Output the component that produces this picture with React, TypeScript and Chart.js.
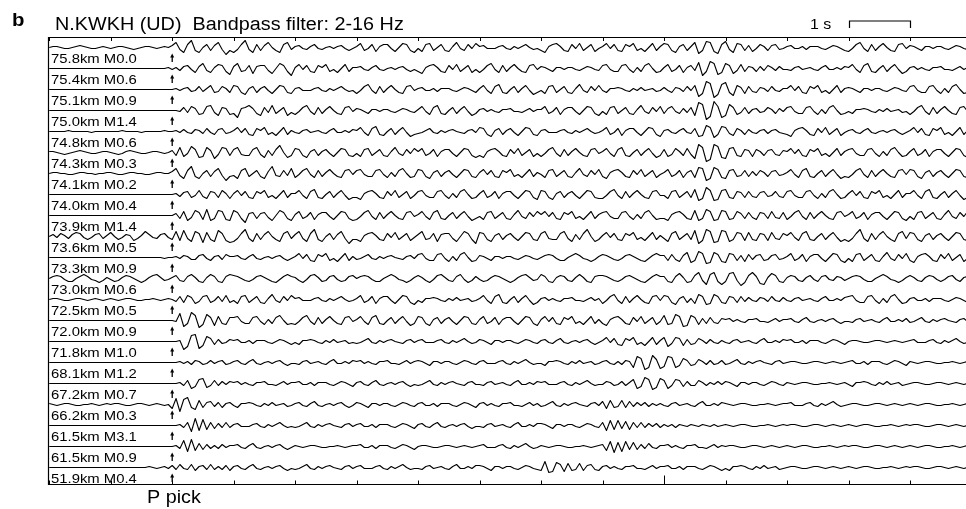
import { useEffect, useRef } from "react";
import { Chart, registerables } from "chart.js";

Chart.register(...registerables);

// Time axis, seconds relative to the P pick
const SAMPLE_START = -2.0;
const SAMPLE_STEP = 0.0625;
const TIME_MIN = -2.02;
const TIME_MAX = 12.91;
const SECOND_TICKS = [-2, -1, 0, 1, 2, 3, 4, 5, 6, 7, 8, 9, 10, 11, 12];
const LONG_TICK = 8;
const SCALE_BAR = [11, 12];

const PANEL = "b";
const TITLE = "N.KWKH (UD)  Bandpass filter: 2-16 Hz";
const SCALE_LABEL = "1 s";
const PICK_LABEL = "P pick";

const TRACE_LABELS = [
  "75.8km M0.0", "75.4km M0.6", "75.1km M0.9", "75.0km M1.4", "74.8km M0.6",
  "74.3km M0.3", "74.1km M0.2", "74.0km M0.4", "73.9km M1.4", "73.6km M0.5",
  "73.3km M0.9", "73.0km M0.6", "72.5km M0.5", "72.0km M0.9", "71.8km M1.0",
  "68.1km M1.2", "67.2km M0.7", "66.2km M0.3", "61.5km M3.1", "61.5km M0.9",
  "51.9km M0.4",
];

// Filtered UD amplitudes (positive = up), 16 samples per second from -2 s.
// One line per second of record.
const tr00 = [
  0,1,1,0,-1,-1,0,1,2,1,0,-1,-1,0,1,0,
  -1,0,1,1,0,-1,-2,-1,0,1,1,0,-1,0,1,0,
  2,5,-2,-5,3,7,-3,-5,0,3,-3,2,5,-2,-7,-3,
  -5,-2,3,7,-2,-5,3,-3,2,5,0,-3,-5,3,5,-2,
  1,2,-1,-2,1,3,-1,-2,0,1,-1,1,2,-1,-3,-1,
  1,4,-3,-1,3,-4,1,3,3,-1,-4,0,4,3,-3,-5,
  -1,-4,3,4,-3,0,3,-3,-4,1,5,-1,-3,3,-1,4,
  1,2,-1,-1,-1,1,2,-1,-2,1,-1,1,3,0,-2,-1,
  -3,-5,1,3,4,1,-3,-4,3,-1,4,-3,0,3,-4,-1,
  1,4,-1,3,-3,-4,3,1,4,-3,-1,-4,0,4,-3,1,
  4,3,-3,-5,1,3,-3,1,5,-6,-3,6,5,-4,-6,3,
  6,-2,-5,4,3,-3,2,-4,-1,3,1,-3,2,3,-2,-1,
  1,2,-1,-1,1,-2,1,1,1,-1,-2,0,2,1,-1,-3,
  -4,-1,3,5,-1,-4,3,-3,1,4,0,-3,-4,3,4,-1,
  2,1,-1,-3,1,1,-1,1,1,-1,-2,0,2,1,-1,-2,
];
const tr01 = [
  0,0,0,0,0,0,0,0,0,0,0,0,0,0,0,0,
  0,0,0,0,0,0,0,0,0,0,0,0,0,0,0,1,
  -1,1,-2,2,3,-1,-4,2,5,-2,-4,1,4,3,-3,-6,
  2,5,-3,-2,3,-5,2,3,3,-2,-5,0,5,3,-3,-7,
  1,4,-1,3,-3,-4,3,1,4,-3,-1,-4,0,4,-3,1,
  1,2,-1,-2,1,3,-1,-2,0,1,-1,1,2,-1,-3,-1,
  -3,-5,1,3,4,1,-3,-4,3,-1,4,-3,0,3,-4,-1,
  -4,-1,3,5,-1,-4,3,-3,1,4,0,-3,-4,3,4,-1,
  2,1,-1,-3,1,1,-1,1,1,-1,-2,0,2,1,-1,-2,
  3,4,-1,-3,-3,3,4,-1,-4,1,-3,3,5,0,-4,-3,
  1,4,-3,-1,3,-4,1,3,-2,6,-7,-3,7,5,-6,-4,
  5,3,-5,-2,4,-3,2,1,-3,2,-2,3,1,-2,2,-1,
  -1,-2,1,2,-1,0,1,-1,-2,1,3,-1,-1,1,-1,2,
  1,4,-1,-4,3,5,-3,-4,0,3,-3,1,4,-1,-5,-3,
  1,2,-1,1,-1,-2,1,1,2,-1,-1,-2,0,2,-1,1,
];
const tr02 = [
  0,0,0,0,0,0,0,0,0,0,0,0,0,0,0,0,
  0,0,0,0,0,0,0,0,0,0,0,0,0,0,0,0,
  0,1,-1,1,2,-2,-1,3,-2,1,4,-3,-2,3,1,-3,
  4,3,-3,-5,1,3,-3,1,3,-1,-4,0,4,3,-3,-4,
  1,2,-1,-1,-1,1,2,-1,-2,1,-1,1,3,0,-2,-1,
  -4,-1,3,5,-1,-4,3,-3,1,4,0,-3,-4,3,4,-1,
  1,2,-1,-1,1,-2,1,1,1,-1,-2,0,2,1,-1,-3,
  1,4,-1,-4,3,5,-3,-4,0,3,-3,1,4,-1,-5,-3,
  -1,-4,3,4,-3,0,3,-3,-4,1,5,-1,-3,3,-1,4,
  -1,-3,1,1,2,1,-1,-2,1,-1,2,-1,0,1,-2,-1,
  2,-1,-3,2,1,-2,3,-1,4,-7,-4,8,6,-8,-5,5,
  7,-3,-6,4,2,-4,3,-2,-3,2,1,-2,3,-1,-2,1,
  1,4,-1,3,-3,-4,3,1,4,-3,-1,-4,0,4,-3,1,
  2,1,-1,-3,1,1,-1,1,1,-1,-2,0,2,1,-1,-2,
  3,4,-1,-3,-3,3,4,-1,-4,1,-3,3,5,0,-4,-3,
];
const tr03 = [
  0,0,0,0,0,0,0,0,0,0,0,0,0,0,0,0,
  0,0,0,0,0,0,0,0,0,0,0,0,0,0,0,0,
  0,0,-1,3,-2,4,2,-4,-3,4,5,-2,-5,3,2,-4,
  -3,-7,2,3,5,2,-3,-5,3,-2,5,-3,0,3,-5,-2,
  -4,-1,3,5,-1,-4,3,-3,1,4,0,-3,-4,3,4,-1,
  2,1,-1,-3,1,1,-1,1,1,-1,-2,0,2,1,-1,-2,
  1,4,-1,-4,3,5,-3,-4,0,3,-3,1,4,-1,-5,-3,
  1,2,-1,1,-1,-2,1,1,2,-1,-1,-2,0,2,-1,1,
  1,4,-3,-1,3,-4,1,3,3,-1,-4,0,4,3,-3,-5,
  -1,-4,3,4,-3,0,3,-3,-4,1,5,-1,-3,3,-1,4,
  -3,2,4,-1,-3,2,-2,3,-5,8,6,-9,-6,9,4,-7,
  -5,6,3,-4,-2,3,-3,1,2,-2,-1,3,1,-3,2,-1,
  3,4,-1,-3,-3,3,4,-1,-4,1,-3,3,5,0,-4,-3,
  -1,-3,1,1,2,1,-1,-2,1,-1,2,-1,0,1,-2,-1,
  -4,-1,3,5,-1,-4,3,-3,1,4,0,-3,-4,3,4,-1,
];
const tr04 = [
  0,0,0,0,0,1,0,0,0,0,0,-1,0,0,0,0,
  0,0,0,1,0,0,0,0,-1,0,0,0,0,0,1,0,
  0,1,-1,2,-1,-2,2,1,-2,3,-1,-3,2,3,-2,-1,
  1,4,-1,3,-3,-4,3,1,4,-3,-1,-4,0,4,-3,1,
  -1,-2,1,2,-1,0,1,-1,-2,1,3,-1,-1,1,-1,2,
  1,4,-1,-4,3,5,-3,-4,0,3,-3,1,4,-1,-5,-3,
  -2,-1,1,3,-1,-2,1,-1,1,2,0,-1,-2,1,2,-1,
  4,3,-3,-5,1,3,-3,1,3,-1,-4,0,4,3,-3,-4,
  1,2,-1,-1,-1,1,2,-1,-2,1,-1,1,3,0,-2,-1,
  1,4,-3,-1,3,-4,1,3,3,-1,-4,0,4,3,-3,-5,
  1,2,-1,-2,1,3,-1,-2,3,-5,-4,6,4,-6,-3,5,
  4,-2,-4,3,1,-3,2,-1,-2,1,2,-2,1,2,-1,-2,
  -3,-5,1,3,4,1,-3,-4,3,-1,4,-3,0,3,-4,-1,
  1,2,-1,-2,1,3,-1,-2,0,1,-1,1,2,-1,-3,-1,
  1,4,-1,3,-3,-4,3,1,4,-3,-1,-4,0,4,-3,1,
];
const tr05 = [
  1,1,0,-1,-2,-1,0,1,2,1,0,-1,-1,0,1,1,
  0,-1,-2,-1,1,2,1,0,-1,-1,0,1,1,0,-1,0,
  2,-3,5,-4,-1,6,3,-5,-4,5,2,-6,-2,5,4,-3,
  3,5,-2,-3,-3,3,5,-2,-5,2,-3,3,7,0,-5,-3,
  4,3,-3,-5,1,3,-3,1,3,-1,-4,0,4,3,-3,-4,
  -1,-4,3,4,-3,0,3,-3,-4,1,5,-1,-3,3,-1,4,
  1,4,-3,-1,3,-4,1,3,3,-1,-4,0,4,3,-3,-5,
  -3,-5,1,3,4,1,-3,-4,3,-1,4,-3,0,3,-4,-1,
  -4,-1,3,5,-1,-4,3,-3,1,4,0,-3,-4,3,4,-1,
  1,4,-1,-4,3,5,-3,-4,0,3,-3,1,4,-1,-5,-3,
  3,-4,-2,4,1,-3,4,-2,-6,8,5,-9,-7,8,6,-5,
  -6,4,5,-3,-4,3,2,-4,3,1,-3,2,3,-2,-3,2,
  1,4,-1,3,-3,-4,3,1,4,-3,-1,-4,0,4,-3,1,
  3,4,-1,-3,-3,3,4,-1,-4,1,-3,3,5,0,-4,-3,
  1,4,-3,-1,3,-4,1,3,3,-1,-4,0,4,3,-3,-5,
];
const tr06 = [
  0,1,1,0,0,-1,-1,0,1,1,0,0,-1,0,0,1,
  1,0,-1,-1,0,1,1,0,0,-1,-1,0,1,1,0,0,
  2,5,-2,-5,3,7,-3,-5,0,3,-3,2,5,-2,-7,-3,
  -2,-5,3,5,-3,0,3,-3,-5,2,7,-2,-3,3,-2,5,
  -4,-1,3,5,-1,-4,3,-3,1,4,0,-3,-4,3,4,-1,
  3,4,-1,-3,-3,3,4,-1,-4,1,-3,3,5,0,-4,-3,
  4,3,-3,-5,1,3,-3,1,3,-1,-4,0,4,3,-3,-4,
  1,4,-1,3,-3,-4,3,1,4,-3,-1,-4,0,4,-3,1,
  -1,-4,3,4,-3,0,3,-3,-4,1,5,-1,-3,3,-1,4,
  -3,-5,1,3,4,1,-3,-4,3,-1,4,-3,0,3,-4,-1,
  1,4,-3,-1,3,-4,1,3,-4,6,5,-7,-5,6,4,-4,
  -5,3,4,-3,-2,3,-3,2,-2,3,1,-3,2,3,-2,-1,
  1,4,-1,-4,3,5,-3,-4,0,3,-3,1,4,-1,-5,-3,
  -4,-1,3,5,-1,-4,3,-3,1,4,0,-3,-4,3,4,-1,
  4,3,-3,-5,1,3,-3,1,3,-1,-4,0,4,3,-3,-4,
];
const tr07 = [
  0,0,0,0,0,0,0,0,0,0,0,0,0,0,0,0,
  0,0,0,0,0,0,0,0,0,0,0,0,0,0,0,0,
  0,1,-2,2,3,-3,-1,4,-2,-4,3,2,-3,4,1,-4,
  1,4,-1,3,-3,-4,3,1,4,-3,-1,-4,0,4,-3,1,
  1,4,-1,-4,3,5,-3,-4,0,3,-3,1,4,-1,-5,-3,
  -3,-5,1,3,4,1,-3,-4,3,-1,4,-3,0,3,-4,-1,
  3,4,-1,-3,-3,3,4,-1,-4,1,-3,3,5,0,-4,-3,
  1,4,-3,-1,3,-4,1,3,3,-1,-4,0,4,3,-3,-5,
  4,3,-3,-5,1,3,-3,1,3,-1,-4,0,4,3,-3,-4,
  -4,-1,3,5,-1,-4,3,-3,1,4,0,-3,-4,3,4,-1,
  -1,-4,3,4,-3,0,3,-3,5,-6,-4,7,4,-6,-5,4,
  5,-3,-4,3,2,-3,3,-2,-3,2,3,-2,-1,3,-2,-3,
  3,4,-1,-3,-3,3,4,-1,-4,1,-3,3,5,0,-4,-3,
  1,4,-1,3,-3,-4,3,1,4,-3,-1,-4,0,4,-3,1,
  1,4,-1,-4,3,5,-3,-4,0,3,-3,1,4,-1,-5,-3,
];
const tr08 = [
  0,0,0,0,0,0,0,0,0,0,0,0,0,0,0,0,
  0,0,0,0,0,0,0,0,0,0,0,0,0,0,0,0,
  0,2,-3,4,-5,-2,5,3,-4,6,-5,-3,5,4,-4,-5,
  5,3,-3,-7,2,3,-3,2,3,-2,-5,0,5,3,-3,-5,
  1,4,-3,-1,3,-4,1,3,3,-1,-4,0,4,3,-3,-5,
  -4,-1,3,5,-1,-4,3,-3,1,4,0,-3,-4,3,4,-1,
  1,4,-1,-4,3,5,-3,-4,0,3,-3,1,4,-1,-5,-3,
  -1,-4,3,4,-3,0,3,-3,-4,1,5,-1,-3,3,-1,4,
  1,4,-1,3,-3,-4,3,1,4,-3,-1,-4,0,4,-3,1,
  3,4,-1,-3,-3,3,4,-1,-4,1,-3,3,5,0,-4,-3,
  -3,-5,1,3,4,1,-3,-4,5,-5,-3,6,4,-5,-4,5,
  4,-4,-3,4,2,-3,3,-2,-4,3,2,-3,4,-2,-3,3,
  -4,-1,3,5,-1,-4,3,-3,1,4,0,-3,-4,3,4,-1,
  1,4,-3,-1,3,-4,1,3,3,-1,-4,0,4,3,-3,-5,
  -1,-4,3,4,-3,0,3,-3,-4,1,5,-1,-3,3,-1,4,
];
const tr09 = [
  0,2,-1,3,1,-2,2,4,3,-1,-3,-1,2,3,-2,1,
  4,0,-3,-1,2,1,-4,-2,1,5,2,-1,-2,2,3,-1,
  -3,5,-4,6,-2,-5,5,3,-6,4,-3,-5,6,3,-4,-6,
  -5,-2,3,7,-2,-5,3,-3,2,5,0,-3,-5,3,5,-2,
  2,5,-2,-5,3,7,-3,-5,0,3,-3,2,5,-2,-7,-3,
  -3,-5,1,3,4,1,-3,-4,3,-1,4,-3,0,3,-4,-1,
  2,5,-3,-2,3,-5,2,3,3,-2,-5,0,5,3,-3,-7,
  4,3,-3,-5,1,3,-3,1,3,-1,-4,0,4,3,-3,-4,
  3,5,-2,-3,-3,3,5,-2,-5,2,-3,3,7,0,-5,-3,
  1,4,-1,3,-3,-4,3,1,4,-3,-1,-4,0,4,-3,1,
  -2,-5,3,5,-3,0,3,-3,6,-7,-4,7,5,-6,-5,6,
  5,-5,-3,4,3,-4,4,-3,-4,3,2,-4,4,-2,-3,3,
  1,4,-1,-4,3,5,-3,-4,0,3,-3,1,4,-1,-5,-3,
  -5,-2,3,7,-2,-5,3,-3,2,5,0,-3,-5,3,5,-2,
  4,3,-3,-5,1,3,-3,1,3,-1,-4,0,4,3,-3,-4,
];
const tr10 = [
  0,0,0,0,0,0,0,0,0,0,0,0,0,0,0,0,
  0,0,0,0,0,0,0,0,0,0,0,0,0,0,-1,0,
  0,1,-1,2,1,-2,-2,2,3,-1,-3,1,2,-2,3,1,
  1,2,-1,-2,1,3,-1,-2,0,1,-1,1,2,-1,-3,-1,
  1,4,-1,3,-3,-4,3,1,4,-3,-1,-4,0,4,-3,1,
  -2,-1,1,3,-1,-2,1,-1,1,2,0,-1,-2,1,2,-1,
  3,4,-1,-3,-3,3,4,-1,-4,1,-3,3,5,0,-4,-3,
  2,1,-1,-3,1,1,-1,1,1,-1,-2,0,2,1,-1,-2,
  0,2,3,2,-1,-3,-3,0,2,4,2,-1,-2,-4,-2,1,
  3,2,0,-2,-3,-1,2,3,1,-1,-3,-4,-1,2,4,2,
  2,-3,3,-2,-4,2,5,-5,-3,6,4,-6,-5,5,3,-4,
  -5,4,3,-3,2,-4,3,-2,2,3,-3,-2,2,3,-2,-1,
  1,4,-3,-1,3,-4,1,3,3,-1,-4,0,4,3,-3,-5,
  -1,-4,3,4,-3,0,3,-3,-4,1,5,-1,-3,3,-1,4,
  -3,-5,1,3,4,1,-3,-4,3,-1,4,-3,0,3,-4,-1,
];
const tr11 = [
  0,2,3,2,-1,-3,-3,0,2,4,2,-1,-2,-4,-2,1,
  -1,-3,-2,1,3,2,0,-2,-4,-2,1,3,4,1,-2,-1,
  1,3,-2,-3,2,4,1,-3,-4,1,4,2,-3,-4,2,4,
  3,2,0,-2,-3,-1,2,3,1,-1,-3,-4,-1,2,4,2,
  1,-2,-4,-1,3,4,1,-3,-2,2,3,-1,-3,-2,2,3,
  0,2,3,2,-1,-3,-3,0,2,4,2,-1,-2,-4,-2,1,
  3,1,-2,-4,-1,3,4,1,-2,-3,2,4,-1,-4,-2,2,
  -1,-3,-2,1,3,2,0,-2,-4,-2,1,3,4,1,-2,-1,
  4,2,-3,-4,1,3,2,-2,-3,1,4,1,-3,-4,2,3,
  3,2,0,-2,-3,-1,2,3,1,-1,-3,-4,-1,2,4,2,
  2,-3,-4,2,5,1,-4,-3,3,6,-2,-6,4,6,-3,-6,
  -3,5,6,-2,-7,-4,3,6,2,-5,-6,1,5,3,-3,-4,
  1,3,2,-2,-3,1,3,-1,-3,2,3,-1,-2,2,1,-2,
  0,2,3,2,-1,-3,-3,0,2,4,2,-1,-2,-4,-2,1,
  3,1,-2,-3,1,3,2,-1,-3,-1,2,3,-1,-3,1,2,
];
const tr12 = [
  0,1,1,0,-1,-1,0,1,1,0,-1,0,1,0,-1,0,
  1,0,-1,0,1,1,0,-1,-1,0,0,1,0,-1,0,1,
  0,-2,3,-3,4,2,-4,-2,3,4,-3,-1,3,-2,4,-3,
  -1,-4,3,4,-3,0,3,-3,-4,1,5,-1,-3,3,-1,4,
  1,2,-1,-1,-1,1,2,-1,-2,1,-1,1,3,0,-2,-1,
  1,4,-3,-1,3,-4,1,3,3,-1,-4,0,4,3,-3,-5,
  -1,-3,1,1,2,1,-1,-2,1,-1,2,-1,0,1,-2,-1,
  1,4,-1,-4,3,5,-3,-4,0,3,-3,1,4,-1,-5,-3,
  1,2,-1,1,-1,-2,1,1,2,-1,-1,-2,0,2,-1,1,
  -4,-1,3,5,-1,-4,3,-3,1,4,0,-3,-4,3,4,-1,
  4,3,-3,-5,1,3,-3,1,-4,5,3,-5,-4,5,3,-3,
  -4,3,2,-3,3,-2,2,-1,-2,2,1,-2,3,-1,-2,2,
  -1,-2,1,2,-1,0,1,-1,-2,1,3,-1,-1,1,-1,2,
  3,4,-1,-3,-3,3,4,-1,-4,1,-3,3,5,0,-4,-3,
  1,2,-1,-1,1,-2,1,1,1,-1,-2,0,2,1,-1,-3,
];
const tr13 = [
  0,0,0,0,0,0,0,0,0,0,0,0,0,0,0,0,
  0,0,0,0,0,0,0,0,0,0,0,0,0,0,0,0,
  0,-1,7,-6,-3,8,5,-7,-4,6,3,-5,4,-3,-4,3,
  3,4,-1,-3,-3,3,4,-1,-4,1,-3,3,5,0,-4,-3,
  -4,-1,3,5,-1,-4,3,-3,1,4,0,-3,-4,3,4,-1,
  1,4,-1,-4,3,5,-3,-4,0,3,-3,1,4,-1,-5,-3,
  4,3,-3,-5,1,3,-3,1,3,-1,-4,0,4,3,-3,-4,
  1,4,-3,-1,3,-4,1,3,3,-1,-4,0,4,3,-3,-5,
  1,4,-1,3,-3,-4,3,1,4,-3,-1,-4,0,4,-3,1,
  -3,-5,1,3,4,1,-3,-4,3,-1,4,-3,0,3,-4,-1,
  5,-4,-3,6,4,-6,-5,5,3,-4,2,-3,3,-2,-3,2,
  1,2,-1,1,-1,-2,1,1,2,-1,-1,-2,0,2,-1,1,
  1,2,-1,-2,1,3,-1,-2,0,1,-1,1,2,-1,-3,-1,
  -1,-2,1,2,-1,0,1,-1,-2,1,3,-1,-1,1,-1,2,
  -2,-1,1,3,-1,-2,1,-1,1,2,0,-1,-2,1,2,-1,
];
const tr14 = [
  0,0,0,0,0,0,0,0,0,0,0,0,0,0,0,0,
  0,0,0,0,0,0,0,0,0,0,0,0,0,0,0,0,
  0,0,1,-8,-5,6,7,-7,-4,5,3,-3,2,-2,-1,2,
  1,2,-1,-1,1,-2,1,1,1,-1,-2,0,2,1,-1,-3,
  -1,-3,1,1,2,1,-1,-2,1,-1,2,-1,0,1,-2,-1,
  -2,-1,1,3,-1,-2,1,-1,1,2,0,-1,-2,1,2,-1,
  1,2,-1,-1,-1,1,2,-1,-2,1,-1,1,3,0,-2,-1,
  2,1,-1,-3,1,1,-1,1,1,-1,-2,0,2,1,-1,-2,
  1,2,-1,-2,1,3,-1,-2,0,1,-1,1,2,-1,-3,-1,
  1,4,-1,3,-3,-4,3,1,4,-3,-1,-4,0,4,-3,1,
  4,-5,-2,4,3,-4,2,-3,-2,3,1,-2,2,-1,-2,1,
  -1,-2,1,2,-1,0,1,-1,-2,1,3,-1,-1,1,-1,2,
  1,2,-1,-1,1,-2,1,1,1,-1,-2,0,2,1,-1,-3,
  0,1,1,0,-1,-1,0,1,1,0,-1,0,1,0,-1,0,
  1,2,-1,-1,-1,1,2,-1,-2,1,-1,1,3,0,-2,-1,
];
const tr15 = [
  0,0,0,0,0,0,0,0,0,0,0,0,0,0,0,0,
  0,0,0,0,0,0,0,0,0,0,0,0,0,0,0,0,
  0,0,1,-1,1,-2,2,1,-2,-1,2,-1,1,2,-2,-1,
  1,2,-1,-2,1,3,-1,-2,0,1,-1,1,2,-1,-3,-1,
  -1,-2,1,2,-1,0,1,-1,-2,1,3,-1,-1,1,-1,2,
  1,2,-1,1,-1,-2,1,1,2,-1,-1,-2,0,2,-1,1,
  2,1,-1,-3,1,1,-1,1,1,-1,-2,0,2,1,-1,-2,
  1,2,-1,-1,-1,1,2,-1,-2,1,-1,1,3,0,-2,-1,
  -1,-3,1,1,2,1,-1,-2,1,-1,2,-1,0,1,-2,-1,
  1,2,-1,-2,1,-2,2,1,-5,6,4,-7,-5,7,3,-6,
  -4,6,5,-5,-3,4,2,-3,-2,3,1,-2,2,-2,-1,2,
  -2,-1,1,3,-1,-2,1,-1,1,2,0,-1,-2,1,2,-1,
  0,1,1,0,-1,-1,0,1,1,0,-1,0,1,0,-1,0,
  1,2,-1,-1,1,-2,1,1,1,-1,-2,0,2,1,-1,-3,
  1,0,-1,0,1,1,0,-1,-1,0,0,1,0,-1,0,1,
];
const tr16 = [
  0,0,0,0,0,0,0,0,0,0,0,0,0,0,0,0,
  0,0,0,0,0,0,0,0,0,0,0,0,0,0,0,0,
  0,0,1,-2,3,-5,-3,4,5,-4,-2,3,-2,2,-1,2,
  1,2,-1,1,-1,-2,1,1,2,-1,-1,-2,0,2,-1,1,
  1,2,-1,-1,1,-2,1,1,1,-1,-2,0,2,1,-1,-3,
  1,2,-1,-2,1,3,-1,-2,0,1,-1,1,2,-1,-3,-1,
  -2,-1,1,3,-1,-2,1,-1,1,2,0,-1,-2,1,2,-1,
  -1,-2,1,2,-1,0,1,-1,-2,1,3,-1,-1,1,-1,2,
  1,2,-1,-1,-1,1,2,-1,-2,1,-1,1,3,0,-2,-1,
  -1,2,1,-2,-1,2,-2,1,4,-5,-3,6,4,-6,-4,5,
  3,-5,-2,4,3,-3,2,-2,-2,3,1,-2,1,-1,2,-1,
  2,1,-1,-3,1,1,-1,1,1,-1,-2,0,2,1,-1,-2,
  1,0,-1,0,1,1,0,-1,-1,0,0,1,0,-1,0,1,
  -1,-3,1,1,2,1,-1,-2,1,-1,2,-1,0,1,-2,-1,
  0,1,1,0,-1,-1,0,1,1,0,-1,0,1,0,-1,0,
];
const tr17 = [
  1,0,-1,0,1,1,0,-1,-1,0,0,1,0,-1,0,1,
  0,1,1,0,-1,-1,0,1,1,0,-1,0,1,0,-1,0,
  -4,6,-7,5,7,-3,-5,4,-3,2,3,-2,2,-3,1,2,
  -1,-3,1,1,2,1,-1,-2,1,-1,2,-1,0,1,-2,-1,
  1,2,-1,-2,1,3,-1,-2,0,1,-1,1,2,-1,-3,-1,
  2,1,-1,-3,1,1,-1,1,1,-1,-2,0,2,1,-1,-2,
  1,2,-1,-1,1,-2,1,1,1,-1,-2,0,2,1,-1,-3,
  1,2,-1,1,-1,-2,1,1,2,-1,-1,-2,0,2,-1,1,
  -2,-1,1,3,-1,-2,1,-1,1,2,0,-1,-2,1,2,-1,
  3,-4,4,-3,-2,4,-3,3,-2,2,-1,2,-2,1,-1,1,
  -1,-2,1,2,-1,0,1,-1,-2,1,3,-1,-1,1,-1,2,
  1,0,-1,0,1,1,0,-1,-1,0,0,1,0,-1,0,1,
  1,2,-1,-1,-1,1,2,-1,-2,1,-1,1,3,0,-2,-1,
  0,1,1,0,-1,-1,0,1,1,0,-1,0,1,0,-1,0,
  1,0,-1,0,1,1,0,-1,-1,0,0,1,0,-1,0,1,
];
const tr18 = [
  0,0,0,0,0,0,0,0,0,0,0,0,0,0,0,0,
  0,0,0,0,0,0,0,0,0,0,0,0,0,0,0,0,
  0,0,1,-2,3,-6,7,-5,6,-4,3,-3,2,-2,3,-2,
  1,2,-1,-1,-1,1,2,-1,-2,1,-1,1,3,0,-2,-1,
  -2,-1,1,3,-1,-2,1,-1,1,2,0,-1,-2,1,2,-1,
  1,2,-1,-1,1,-2,1,1,1,-1,-2,0,2,1,-1,-3,
  1,2,-1,-2,1,3,-1,-2,0,1,-1,1,2,-1,-3,-1,
  -1,-2,1,2,-1,0,1,-1,-2,1,3,-1,-1,1,-1,2,
  2,1,-1,-3,1,1,-1,1,1,-1,-2,0,2,1,-1,-2,
  3,-5,5,-4,5,-3,4,-4,3,-2,3,-2,2,-1,2,-2,
  1,-1,1,-2,1,0,-1,1,0,-1,1,0,-1,1,-1,0,
  1,0,-1,0,1,1,0,-1,-1,0,0,1,0,-1,0,1,
  0,1,1,0,-1,-1,0,1,1,0,-1,0,1,0,-1,0,
  1,0,-1,0,1,1,0,-1,-1,0,0,1,0,-1,0,1,
  0,1,1,0,-1,-1,0,1,1,0,-1,0,1,0,-1,0,
];
const tr19 = [
  0,0,0,0,0,0,0,0,0,0,0,0,0,0,0,0,
  0,0,0,0,0,0,0,0,0,0,0,0,0,0,0,0,
  0,1,-2,6,-5,7,-4,3,-3,2,-2,1,-2,2,-1,1,
  1,2,-1,-2,1,3,-1,-2,0,1,-1,1,2,-1,-3,-1,
  1,0,-1,0,1,1,0,-1,-1,0,0,1,0,-1,0,1,
  1,2,-1,-1,1,-2,1,1,1,-1,-2,0,2,1,-1,-3,
  0,1,1,0,-1,-1,0,1,1,0,-1,0,1,0,-1,0,
  1,2,-1,-1,-1,1,2,-1,-2,1,-1,1,3,0,-2,-1,
  1,0,-1,0,1,1,0,-1,-1,0,0,1,0,-1,0,1,
  2,-4,5,-6,4,-5,5,-3,4,-3,2,-2,3,-1,-2,1,
  1,2,-1,1,-1,-2,1,1,2,-1,-1,-2,0,2,-1,1,
  0,1,1,0,-1,-1,0,1,1,0,-1,0,1,0,-1,0,
  1,0,-1,0,1,1,0,-1,-1,0,0,1,0,-1,0,1,
  0,1,1,0,-1,-1,0,1,1,0,-1,0,1,0,-1,0,
  1,0,-1,0,1,1,0,-1,-1,0,0,1,0,-1,0,1,
];
const tr20 = [
  0,0,0,0,0,0,0,0,0,0,0,0,0,0,0,0,
  0,0,0,0,0,0,0,0,0,0,1,0,-1,0,1,-1,
  2,-2,3,-1,-2,3,-3,1,2,-2,3,-2,1,-2,2,-3,
  1,2,-1,-2,1,3,-1,-2,0,1,-1,1,2,-1,-3,-1,
  -2,-1,1,3,-1,-2,1,-1,1,2,0,-1,-2,1,2,-1,
  1,2,-1,-1,-1,1,2,-1,-2,1,-1,1,3,0,-2,-1,
  -1,-2,1,2,-1,0,1,-1,-2,1,3,-1,-1,1,-1,2,
  2,1,-1,-3,1,1,-1,1,1,-1,-2,0,2,1,-1,-2,
  -3,6,-5,-4,5,3,-4,4,-3,-2,4,-3,2,3,-2,-3,
  1,2,-1,1,-1,-2,1,1,2,-1,-1,-2,0,2,-1,1,
  1,2,-1,-1,1,-2,1,1,1,-1,-2,0,2,1,-1,-3,
  -1,-3,1,1,2,1,-1,-2,1,-1,2,-1,0,1,-2,-1,
  0,1,1,0,-1,-1,0,1,1,0,-1,0,1,0,-1,0,
  1,0,-1,0,1,1,0,-1,-1,0,0,1,0,-1,0,1,
  0,1,1,0,-1,-1,0,1,1,0,-1,0,1,0,-1,0,
];

const TRACES = [
  tr00, tr01, tr02, tr03, tr04, tr05, tr06, tr07, tr08, tr09, tr10,
  tr11, tr12, tr13, tr14, tr15, tr16, tr17, tr18, tr19, tr20,
];

// Vertical layout in plot units (1 unit = 1 px of the plot box)
const Y_SPAN = 447;
const ROW_TOP = 9.5;
const ROW_STEP = 21;

const FONT = '"Liberation Sans", Arial, Helvetica, sans-serif';
const STRETCH = 1.1;

function drawText(ctx: CanvasRenderingContext2D, s: string, x: number, y: number, font: string, baseline: CanvasTextBaseline = "alphabetic") {
  ctx.save();
  ctx.translate(x, y);
  ctx.scale(STRETCH, 1);
  ctx.font = font;
  ctx.textBaseline = baseline;
  ctx.textAlign = "left";
  ctx.fillText(s, 0, 0);
  ctx.restore();
}

const decorations = {
  id: "seisDecorations",
  afterDraw(chart: any) {
    const { ctx, chartArea: a, scales } = chart;
    const xs = scales.x;
    const ys = scales.y;
    ctx.save();
    ctx.strokeStyle = "#000";
    ctx.fillStyle = "#000";

    // frame: top, left and bottom edges
    ctx.lineWidth = 1.2;
    ctx.beginPath();
    ctx.moveTo(a.right, a.top - 0.5);
    ctx.lineTo(a.left + 0.5, a.top - 0.5);
    ctx.lineTo(a.left + 0.5, a.bottom - 0.5);
    ctx.lineTo(a.right, a.bottom - 0.5);
    ctx.stroke();

    // one-second ticks
    ctx.lineWidth = 1;
    ctx.beginPath();
    for (const t of SECOND_TICKS) {
      const x = Math.round(xs.getPixelForValue(t)) + 0.5;
      ctx.moveTo(x, a.bottom - 0.5);
      ctx.lineTo(x, a.bottom - 0.5 - (t === LONG_TICK ? 9 : 4));
      ctx.moveTo(x, a.top - 0.5);
      ctx.lineTo(x, a.top + 3);
    }
    ctx.stroke();

    // trace labels and P-pick arrows
    const xp = xs.getPixelForValue(0);
    TRACE_LABELS.forEach((label, i) => {
      const yb = ys.getPixelForValue(ROW_TOP + i * ROW_STEP);
      drawText(ctx, label, 51, yb + 11.5, `13.5px ${FONT}`, "middle");
      const tip = yb + 6;
      ctx.beginPath();
      ctx.moveTo(xp, tip);
      ctx.lineTo(xp - 2, tip + 4);
      ctx.lineTo(xp + 2, tip + 4);
      ctx.closePath();
      ctx.fill();
      ctx.lineWidth = 1.3;
      ctx.beginPath();
      ctx.moveTo(xp, tip + 3);
      ctx.lineTo(xp, tip + 8.5);
      ctx.stroke();
    });

    // headings
    drawText(ctx, PANEL, 12, 26, `bold 18.5px ${FONT}`);
    drawText(ctx, TITLE, 55, 30, `18px ${FONT}`);
    drawText(ctx, PICK_LABEL, 147, 503, `18px ${FONT}`);

    // 1 s scale bar
    const x1 = Math.round(xs.getPixelForValue(SCALE_BAR[0])) + 0.5;
    const x2 = Math.round(xs.getPixelForValue(SCALE_BAR[1])) + 0.5;
    ctx.lineWidth = 1.2;
    ctx.beginPath();
    ctx.moveTo(x1, 28);
    ctx.lineTo(x1, 21);
    ctx.lineTo(x2, 21);
    ctx.lineTo(x2, 28);
    ctx.stroke();
    drawText(ctx, SCALE_LABEL, 810, 29, `14.5px ${FONT}`);

    ctx.restore();
  },
};

export default function App() {
  const canvasRef = useRef<HTMLCanvasElement | null>(null);

  useEffect(() => {
    const canvas = canvasRef.current;
    if (!canvas) return;
    const datasets = TRACES.map((amps, i) => ({
      label: TRACE_LABELS[i],
      data: amps.map((a, k) => ({
        x: SAMPLE_START + k * SAMPLE_STEP,
        y: ROW_TOP + i * ROW_STEP - a,
      })),
      borderColor: "#000",
      borderWidth: 1.1,
      borderJoinStyle: "round" as const,
      pointRadius: 0,
      tension: 0,
      fill: false,
    }));
    const chart = new Chart(canvas, {
      type: "line",
      data: { datasets },
      options: {
        responsive: false,
        maintainAspectRatio: false,
        animation: false,
        layout: { padding: { left: 48, right: 0, top: 38, bottom: 24 } },
        scales: {
          x: { type: "linear", min: TIME_MIN, max: TIME_MAX, display: false },
          y: { type: "linear", min: 0, max: Y_SPAN, reverse: true, display: false },
        },
        plugins: {
          legend: { display: false },
          tooltip: { enabled: false },
          title: { display: false },
        },
        events: [],
      },
      plugins: [decorations],
    });
    return () => chart.destroy();
  }, []);

  return (
    <div style={{ position: "fixed", left: 0, top: 0, width: 966, height: 509, background: "#fff", overflow: "hidden" }}>
      <canvas ref={canvasRef} width={966} height={509} style={{ display: "block" }} />
    </div>
  );
}
